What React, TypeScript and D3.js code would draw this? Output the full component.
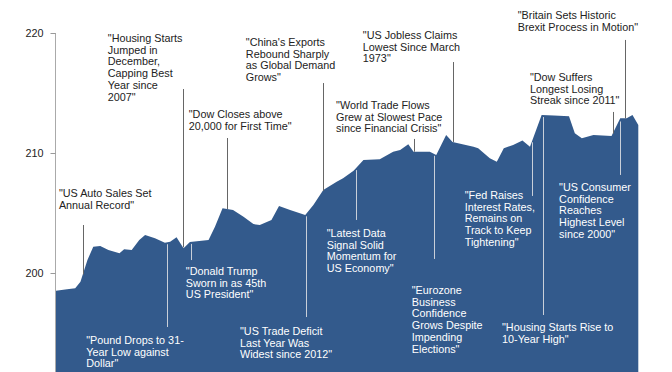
import { useMemo, useRef, useEffect } from "react";
import * as d3 from "d3";
import React from "react";

const WIDTH = 672;
const HEIGHT = 372;
const FONT = "'Liberation Sans', Arial, sans-serif";
const AREA_COLOR = "#335a8c";

// position along the period (0 = start, 100 = end) and index level
const days = [
  0, 1.9, 3.3, 4.2, 5.4, 6.4, 7.6, 9.0, 10.9, 11.7, 13.0, 14.3, 15.3, 17.0, 18.7, 19.6,
  20.7, 21.9, 23.0, 26.2, 27.3, 28.6, 30.4, 32.2, 33.9, 35.0, 37.0, 38.3, 40.2, 42.8,
  44.2, 45.9, 48.2, 49.3, 51.1, 52.8, 55.6, 57.9, 59.1, 60.5, 61.4, 64.2, 65.3, 67.0,
  68.1, 71.7, 72.5, 74.5, 75.7, 76.9, 78.5, 80.1, 81.4, 83.4, 85.5, 88.1, 89.1, 90.3,
  92.3, 95.4, 96.9, 98.0, 99.0, 100,
];
const levels = [
  198.53, 198.64, 198.73, 199.28, 201.08, 202.19, 202.25, 201.92, 201.64, 201.98, 201.92,
  202.75, 203.17, 202.89, 202.53, 202.61, 202.97, 202.06, 202.58, 202.75, 203.86, 205.39,
  205.25, 204.69, 204.08, 204.0, 204.42, 205.58, 205.25, 204.83, 205.67, 206.92, 207.61,
  207.89, 208.53, 209.42, 209.47, 210.11, 210.25, 210.72, 210.11, 210.11, 209.83, 211.5,
  210.92, 210.53, 210.39, 209.56, 209.28, 210.39, 210.67, 211.04, 210.53, 213.17, 213.12,
  213.06, 211.64, 211.22, 211.5, 211.42, 212.89, 212.89, 213.17, 212.33,
];
const yTicks = [200, 210, 220];

// headline annotations: event day, leader end level, label day / level
const eventDays = [4.6, 21.8, 29.4, 45.8, 68.1, 61.5, 97.8, 95.6, 19.1, 23.2, 42.9, 51.5, 64.9, 81.8, 96.8, 83.6];
const leaderEnds = [204.0, 215.33, 211.25, 215.83, 217.58, 211.17, 219.42, 213.42, 195.5, 201.08, 196.33, 204.42, 201.17, 206.42, 208.17, 196.5];
const labelDays = [0.5, 8.9, 22.8, 32.6, 52.7, 48.1, 79.3, 81.4, 5.2, 22.3, 31.6, 46.5, 61.1, 70.2, 86.4, 76.6];
const labelLevels = [206.33, 219.25, 212.92, 218.92, 219.5, 213.67, 221.17, 216.0, 194.08, 199.83, 194.83, 203.0, 198.25, 206.17, 206.83, 195.17];
const headlines = [
  ['"US Auto Sales Set', 'Annual Record"'],
  ['"Housing Starts', "Jumped in", "December,", "Capping Best", "Year since", '2007"'],
  ['"Dow Closes above', '20,000 for First Time"'],
  ['"China\'s Exports', "Rebound Sharply", "as Global Demand", 'Grows"'],
  ['"US Jobless Claims', "Lowest Since March", '1973"'],
  ['"World Trade Flows', "Grew at Slowest Pace", 'since Financial Crisis"'],
  ['"Britain Sets Historic', 'Brexit Process in Motion"'],
  ['"Dow Suffers', "Longest Losing", 'Streak since 2011"'],
  ['"Pound Drops to 31-', "Year Low against", 'Dollar"'],
  ['"Donald Trump', "Sworn in as 45th", 'US President"'],
  ['"US Trade Deficit', "Last Year Was", 'Widest since 2012"'],
  ['"Latest Data', "Signal Solid", "Momentum for", 'US Economy"'],
  ['"Eurozone', "Business", "Confidence", "Grows Despite", "Impending", 'Elections"'],
  ['"Fed Raises', "Interest Rates,", "Remains on", "Track to Keep", 'Tightening"'],
  ['"US Consumer', "Confidence", "Reaches", "Highest Level", 'since 2000"'],
  ['"Housing Starts Rise to', '10-Year High"'],
];

const levelAt = (t: number) => {
  const i = Math.max(1, d3.bisectLeft(days, t));
  const t0 = days[i - 1], t1 = days[i];
  const k = (t - t0) / (t1 - t0);
  return levels[i - 1] + (levels[i] - levels[i - 1]) * k;
};

const App = () => {
  const axisRef = useRef(null);

  const xScale = useMemo(() => d3.scaleLinear().domain([0, 100]).range([56, 638.3]), []);
  const yScale = useMemo(() => d3.scaleLinear().domain([200, 220]).range([273, 33]), []);

  const areaPath = useMemo(() => {
    const gen = d3
      .area<number>()
      .x((d, i) => xScale(days[i]))
      .y0(HEIGHT)
      .y1((d) => yScale(d));
    return gen(levels);
  }, [xScale, yScale]);

  useEffect(() => {
    const g = d3.select(axisRef.current);
    g.selectAll("*").remove();
    const axis = d3.axisLeft(yScale).tickValues(yTicks).tickSize(5).tickPadding(7);
    g.append("g").attr("transform", "translate(55.5,0)").call(axis);
    g.select(".domain").remove();
    g.selectAll(".tick line").attr("stroke", "#999");
    g.selectAll(".tick text")
      .attr("fill", "#222")
      .style("font-family", FONT)
      .style("font-size", "10.8px");
  }, [yScale]);

  const notes = headlines.map((lines, i) => {
    const x = Math.round(xScale(eventDays[i])) + 0.5;
    const onArea = yScale(levelAt(eventDays[i]));
    const end = yScale(leaderEnds[i]);
    const inside = end > onArea;
    const lx = xScale(labelDays[i]);
    const ly = yScale(labelLevels[i]);
    return (
      <g key={i}>
        <line
          x1={x}
          x2={x}
          y1={inside ? onArea + 2 : end}
          y2={inside ? end : onArea}
          stroke={inside ? "#c9cfd9" : "#666"}
          strokeWidth={1}
        />
        <text x={lx} y={ly} fill={inside ? "#fff" : "#222"} fontFamily={FONT} fontSize={10.8}>
          {lines.map((s, j) => (
            <tspan key={j} x={lx} dy={j === 0 ? 0 : 11.7}>
              {s}
            </tspan>
          ))}
        </text>
      </g>
    );
  });

  return (
    <svg width={WIDTH} height={HEIGHT} style={{ position: "absolute", left: 0, top: 0 }}>
      <rect width={WIDTH} height={HEIGHT} fill="#fff" />
      <path d={areaPath} fill={AREA_COLOR} />
      <line x1={55.5} x2={55.5} y1={yScale(220)} y2={HEIGHT} stroke="#aaa" />
      <g ref={axisRef} />
      {notes}
    </svg>
  );
};

export default App;
